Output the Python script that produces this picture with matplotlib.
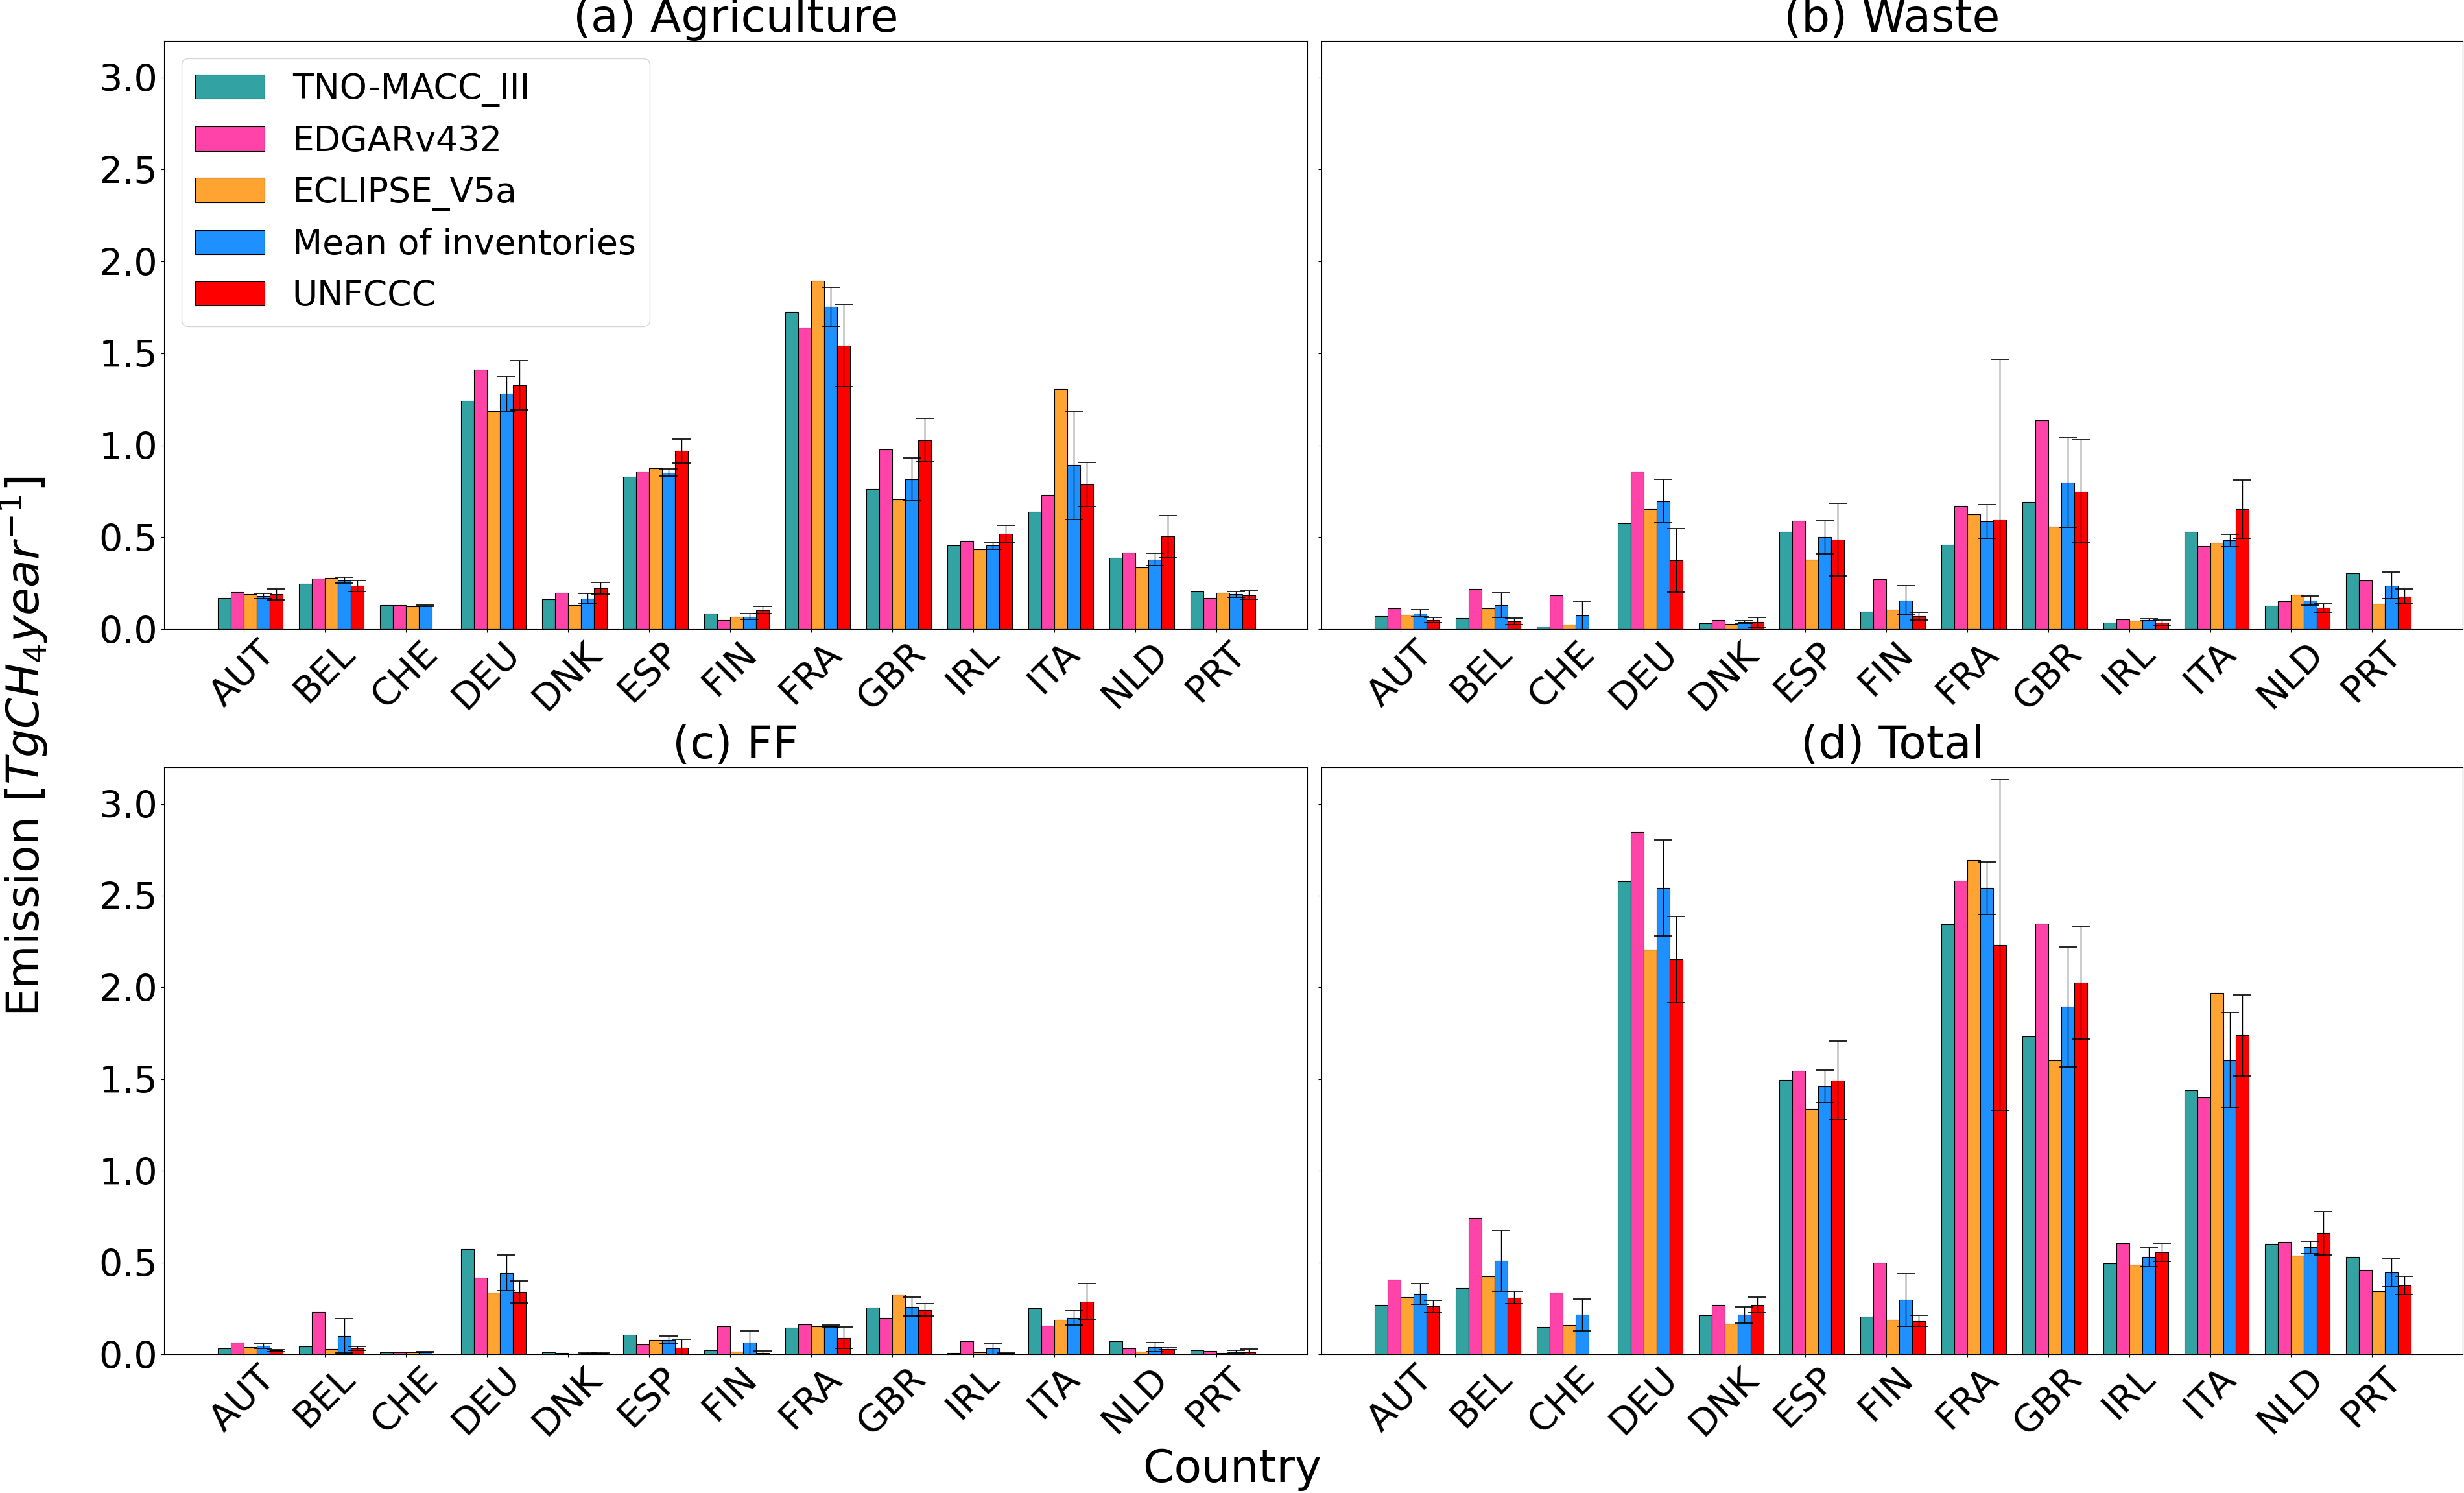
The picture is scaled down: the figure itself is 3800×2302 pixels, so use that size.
import numpy as np
import matplotlib
matplotlib.use("Agg")
import matplotlib.pyplot as plt

nan = np.nan
countries = ['AUT', 'BEL', 'CHE', 'DEU', 'DNK', 'ESP', 'FIN', 'FRA', 'GBR', 'IRL', 'ITA', 'NLD', 'PRT']
series_names = ['TNO-MACC_III', 'EDGARv432', 'ECLIPSE_V5a', 'Mean of inventories', 'UNFCCC']
panel_titles = ['(a) Agriculture', '(b) Waste', '(c) FF', '(d) Total']

# (a) Agriculture
tno_agri = [0.169, 0.247, 0.130, 1.243, 0.162, 0.828, 0.086, 1.726, 0.761, 0.454, 0.639, 0.388, 0.205]
edgar_agri = [0.200, 0.274, 0.132, 1.411, 0.199, 0.857, 0.049, 1.642, 0.977, 0.481, 0.732, 0.415, 0.169]
eclipse_agri = [0.190, 0.278, 0.122, 1.185, 0.131, 0.874, 0.066, 1.895, 0.705, 0.435, 1.305, 0.334, 0.196]
mean_agri = [0.180, 0.266, 0.128, 1.280, 0.165, 0.851, 0.068, 1.754, 0.815, 0.454, 0.892, 0.378, 0.189]
mean_agri_err = [0.015, 0.015, 0.004, 0.095, 0.028, 0.020, 0.016, 0.107, 0.117, 0.020, 0.294, 0.034, 0.016]
unfccc_agri = [0.190, 0.235, nan, 1.327, 0.222, 0.969, 0.104, 1.543, 1.028, 0.519, 0.788, 0.503, 0.185]
unfccc_agri_err = [0.030, 0.030, nan, 0.135, 0.033, 0.065, 0.018, 0.224, 0.119, 0.047, 0.120, 0.115, 0.023]

# (b) Waste
tno_waste = [0.070, 0.059, 0.014, 0.574, 0.031, 0.528, 0.095, 0.459, 0.693, 0.034, 0.528, 0.128, 0.303]
edgar_waste = [0.112, 0.220, 0.184, 0.857, 0.049, 0.590, 0.272, 0.669, 1.135, 0.053, 0.450, 0.153, 0.266]
eclipse_waste = [0.076, 0.112, 0.024, 0.653, 0.028, 0.376, 0.105, 0.626, 0.558, 0.046, 0.468, 0.186, 0.139]
mean_waste = [0.086, 0.131, 0.074, 0.696, 0.038, 0.500, 0.157, 0.585, 0.797, 0.050, 0.482, 0.155, 0.238]
mean_waste_err = [0.019, 0.066, 0.076, 0.118, 0.008, 0.089, 0.081, 0.091, 0.244, 0.005, 0.034, 0.024, 0.071]
unfccc_waste = [0.050, 0.043, nan, 0.374, 0.038, 0.486, 0.072, 0.595, 0.749, 0.034, 0.653, 0.116, 0.178]
unfccc_waste_err = [0.013, 0.018, nan, 0.172, 0.026, 0.197, 0.021, 0.871, 0.280, 0.014, 0.159, 0.025, 0.040]

# (c) FF
tno_ff = [0.032, 0.041, 0.009, 0.573, 0.009, 0.105, 0.022, 0.144, 0.253, 0.008, 0.251, 0.070, 0.022]
edgar_ff = [0.064, 0.229, 0.011, 0.417, 0.008, 0.053, 0.152, 0.162, 0.197, 0.070, 0.156, 0.031, 0.017]
eclipse_ff = [0.039, 0.030, 0.009, 0.337, 0.002, 0.078, 0.013, 0.152, 0.325, 0.011, 0.186, 0.014, 0.008]
mean_ff = [0.045, 0.100, 0.011, 0.443, 0.006, 0.079, 0.064, 0.152, 0.259, 0.031, 0.197, 0.039, 0.014]
mean_ff_err = [0.014, 0.093, 0.002, 0.098, 0.003, 0.021, 0.064, 0.006, 0.051, 0.030, 0.039, 0.024, 0.008]
unfccc_ff = [0.020, 0.032, nan, 0.340, 0.006, 0.037, 0.007, 0.090, 0.242, 0.006, 0.287, 0.030, 0.012]
unfccc_ff_err = [0.006, 0.010, nan, 0.060, 0.003, 0.045, 0.009, 0.058, 0.033, 0.002, 0.100, 0.006, 0.015]

# (d) Total
tno_total = [0.268, 0.360, 0.150, 2.576, 0.212, 1.496, 0.206, 2.346, 1.731, 0.495, 1.440, 0.600, 0.531]
edgar_total = [0.405, 0.744, 0.336, 2.848, 0.268, 1.545, 0.497, 2.582, 2.348, 0.606, 1.399, 0.613, 0.461]
eclipse_total = [0.311, 0.424, 0.159, 2.205, 0.165, 1.337, 0.186, 2.693, 1.603, 0.489, 1.971, 0.536, 0.343]
mean_total = [0.328, 0.508, 0.214, 2.541, 0.214, 1.459, 0.296, 2.541, 1.894, 0.531, 1.603, 0.583, 0.446]
mean_total_err = [0.057, 0.166, 0.086, 0.262, 0.044, 0.088, 0.144, 0.144, 0.328, 0.054, 0.260, 0.034, 0.078]
unfccc_total = [0.261, 0.309, nan, 2.153, 0.268, 1.493, 0.182, 2.231, 2.025, 0.555, 1.738, 0.660, 0.375]
unfccc_total_err = [0.033, 0.034, nan, 0.235, 0.043, 0.214, 0.030, 0.903, 0.306, 0.051, 0.222, 0.118, 0.048]

panels = [
    (tno_agri, edgar_agri, eclipse_agri, mean_agri, mean_agri_err, unfccc_agri, unfccc_agri_err),
    (tno_waste, edgar_waste, eclipse_waste, mean_waste, mean_waste_err, unfccc_waste, unfccc_waste_err),
    (tno_ff, edgar_ff, eclipse_ff, mean_ff, mean_ff_err, unfccc_ff, unfccc_ff_err),
    (tno_total, edgar_total, eclipse_total, mean_total, mean_total_err, unfccc_total, unfccc_total_err),
]

colors = ['#33A2A2', '#FF43A9', '#FFA333', '#1E90FF', '#FF0000']

W, H = 3800, 2302
fig = plt.figure(figsize=(W / 100, H / 100), dpi=100)

def rect(x0, x1, ytop, ybot):
    return [x0 / W, 1 - ybot / H, (x1 - x0) / W, (ybot - ytop) / H]

rects = [rect(253, 2016, 63, 970), rect(2038, 3798, 63, 970),
         rect(253, 2016, 1183, 2088), rect(2038, 3798, 1183, 2088)]

x = np.arange(len(countries))
w = 0.16
err_kw = dict(elinewidth=1.0, capthick=1.2, ecolor='black')

axes = []
for p, (data, r, title) in enumerate(zip(panels, rects, panel_titles)):
    ax = fig.add_axes(r)
    axes.append(ax)
    tno, edgar, eclipse, mean, mean_err, unf, unf_err = data
    vals = [tno, edgar, eclipse, mean, unf]
    errs = [None, None, None, mean_err, unf_err]
    for k in range(5):
        ax.bar(x + (k - 2) * w, vals[k], width=w, align='edge', color=colors[k],
               edgecolor='black', linewidth=0.8, label=series_names[k],
               yerr=errs[k], capsize=10 if errs[k] is not None else 0, error_kw=err_kw)
    ax.set_xlim(-0.98, 13.12)
    ax.set_ylim(0, 3.2)
    ax.set_yticks([0, 0.5, 1.0, 1.5, 2.0, 2.5, 3.0])
    ax.set_xticks(x)
    ax.set_xticklabels(countries, rotation=45)
    ax.tick_params(labelsize=41)
    if p in (1, 3):
        ax.tick_params(labelleft=False)
    else:
        ax.set_yticklabels(['0.0', '0.5', '1.0', '1.5', '2.0', '2.5', '3.0'])
    ax.set_title(title, fontsize=50, pad=5.5)

axes[0].legend(loc='upper left', fontsize=38.5, labelspacing=0.5)

fig.text(0.0095, 0.5, 'Emission [$TgCH_4year^{-1}$]', rotation=90, va='center', ha='center', fontsize=50)
fig.text(0.5, 0.016, 'Country', ha='center', va='center', fontsize=50)

fig.savefig('out.png', dpi=100)
